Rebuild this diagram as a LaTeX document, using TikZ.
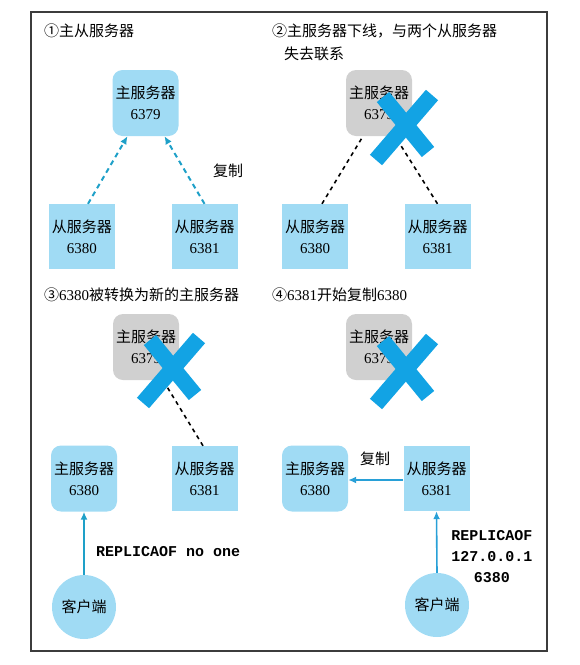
\documentclass[tikz,border=0pt]{standalone}
\usepackage{fontspec}
\setmainfont{Liberation Serif}
\setmonofont{Liberation Mono}
\newfontfamily\cjk{Noto Sans CJK SC}
\usetikzlibrary{arrows.meta,calc}
\definecolor{boxblue}{RGB}{160,219,244}
\definecolor{boxgray}{RGB}{208,208,208}
\definecolor{xblue}{RGB}{18,163,228}
\definecolor{tealc}{RGB}{30,160,200}
\definecolor{arrblue}{RGB}{40,160,215}
\definecolor{framec}{RGB}{60,60,60}
\begin{document}
\begin{tikzpicture}[x=1pt,y=-1pt,
  font=\fontsize{15}{21}\selectfont,
  mastbox/.style={fill=boxblue, rounded corners=10pt, minimum width=66pt, minimum height=66pt, align=center, inner sep=0pt},
  deadbox/.style={fill=boxgray, rounded corners=10pt, minimum width=66pt, minimum height=66pt, align=center, inner sep=0pt},
  slavebox/.style={fill=boxblue, minimum width=66pt, minimum height=65pt, align=center, inner sep=0pt},
  client/.style={circle, fill=boxblue, minimum size=64pt, inner sep=0pt},
  title/.style={anchor=west, inner sep=0pt},
  repl/.style={tealc, line width=2pt, dash pattern=on 5pt off 4pt, -{Latex[length=8pt,width=7pt]}},
  lost/.style={black, line width=1.6pt, dash pattern=on 4pt off 4pt},
  cmdarrow/.style={line width=1.6pt, -{Latex[length=8pt,width=7pt]}},
  cross/.style={xblue, line width=16pt},
  cmd/.style={font=\fontsize{15}{21}\selectfont\ttfamily\bfseries, inner sep=0pt, align=center}
]
\useasboundingbox (0,0) rectangle (580,665);
\draw[framec, line width=1.2pt] (31,12) rectangle (547,651);

% ---------- panel 1 ----------
\node[title] (t1) at (44,31) {{\cjk ①主从服务器}};
\node[mastbox] (m1) at (145.5,103) {{\cjk 主服务器}\\6379};
\node[slavebox] (s1a) at (82,236.5) {{\cjk 从服务器}\\6380};
\node[slavebox] (s1b) at (204.5,236.5) {{\cjk 从服务器}\\6381};
\draw[repl] ($(s1a.north)+(6,0)$) -- ($(m1.south)+(-18,0)$);
\draw[repl] ($(s1b.north)+(0,0)$) -- ($(m1.south)+(19,0)$);
\node (l1) at (228,171) {{\cjk 复制}};

% ---------- panel 2 ----------
\node[title] (t2) at (272,31) {{\cjk ②主服务器下线，与两个从服务器}};
\node[title] (t2b) at (284,54) {{\cjk 失去联系}};
\node[deadbox] (m2) at (379,103) {{\cjk 主服务器}\\6379};
\node[slavebox] (s2a) at (315,236.5) {{\cjk 从服务器}\\6380};
\node[slavebox] (s2b) at (437.5,236.5) {{\cjk 从服务器}\\6381};
\draw[lost] ($(s2a.north)+(7,0)$) -- ($(m2.south)+(-16,0)$);
\draw[lost] ($(s2b.north)+(0,0)$) -- ($(m2.south)+(16,0)$);
\coordinate (x2) at (404,128);
\draw[cross] ($(x2)+(-21,-31)$) -- ($(x2)+(24,24)$);
\draw[cross] ($(x2)+(28,-33)$) -- ($(x2)+(-28,32)$);

% ---------- panel 3 ----------
\node[title] (t3) at (44,295) {{\cjk ③}6380{\cjk 被转换为新的主服务器}};
\node[deadbox] (m3) at (146,347) {{\cjk 主服务器}\\6379};
\node[mastbox] (n3) at (84,478.5) {{\cjk 主服务器}\\6380};
\node[slavebox] (s3) at (204.5,478.5) {{\cjk 从服务器}\\6381};
\draw[lost] ($(s3.north)+(-1.5,0)$) -- ($(m3.south)+(17,0)$);
\coordinate (x3) at (171,371);
\draw[cross] ($(x3)+(-21,-31)$) -- ($(x3)+(24,24)$);
\draw[cross] ($(x3)+(28,-33)$) -- ($(x3)+(-28,32)$);
\node[client] (c3) at (84,607) {{\cjk 客户端}};
\draw[cmdarrow, tealc] (c3.north) -- (n3.south);
\node[cmd, anchor=west] (r3) at (96,552) {REPLICAOF no one};

% ---------- panel 4 ----------
\node[title] (t4) at (272,295) {{\cjk ④}6381{\cjk 开始复制}6380};
\node[deadbox] (m4) at (379,347) {{\cjk 主服务器}\\6379};
\node[mastbox] (n4) at (315,478.5) {{\cjk 主服务器}\\6380};
\node[slavebox] (s4) at (436.5,478.5) {{\cjk 从服务器}\\6381};
\draw[cmdarrow, arrblue] ($(s4.west)+(0,1.5)$) -- ($(n4.east)+(0,1.5)$);
\node (l4) at (375,459) {{\cjk 复制}};
\coordinate (x4) at (404,372);
\draw[cross] ($(x4)+(-21,-31)$) -- ($(x4)+(24,24)$);
\draw[cross] ($(x4)+(28,-33)$) -- ($(x4)+(-28,32)$);
\node[client] (c4) at (437,605) {{\cjk 客户端}};
\draw[cmdarrow, arrblue] (c4.north) -- (s4.south);
\node[cmd] (r4) at (492,557) {REPLICAOF\\127.0.0.1\\6380};
\end{tikzpicture}
\end{document}
